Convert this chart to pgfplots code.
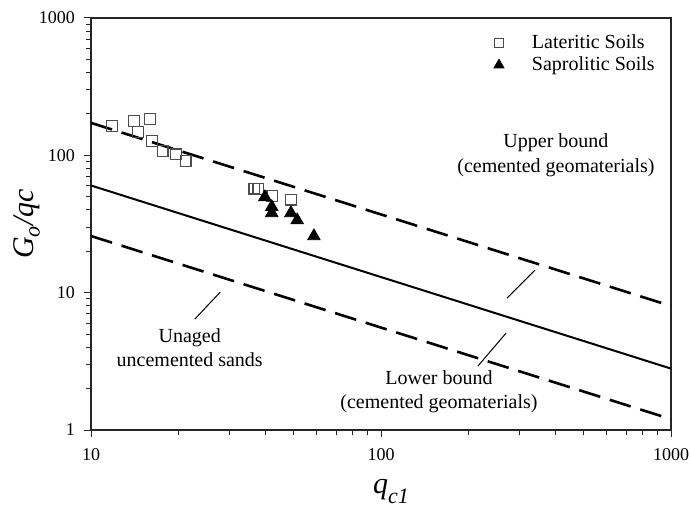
\documentclass[border=0pt]{standalone}
\usepackage{fontspec}
\setmainfont{Liberation Serif}
\usepackage{pgfplots}
\pgfplotsset{compat=1.18}
\begin{document}
\begin{tikzpicture}
\begin{loglogaxis}[
  scale only axis,
  width=290pt, height=206pt,
  xmin=10, xmax=1000, ymin=1, ymax=1000,
  log ticks with fixed point,
  /pgf/number format/1000 sep={},
  /pgf/number format/assume math mode=true,
  tick label style={font=\fontsize{9}{10}\selectfont},
  xtick={10,100,1000}, ytick={1,10,100,1000},
  tick align=outside,
  major tick length=3.5pt, minor tick length=2.5pt,
  tick style={black!85, line width=0.5pt},
  axis line style={black!85, line width=0.6pt},
  xtick pos=bottom, ytick pos=left,
  xticklabel style={yshift=-2pt},
  yticklabel style={xshift=-1pt},
  xlabel={\fontsize{15}{16}\selectfont\itshape q\raisebox{-0.75ex}{\fontsize{11}{12}\selectfont c1}},
  ylabel={\fontsize{15}{16}\selectfont\itshape G\raisebox{-0.45ex}{\fontsize{11}{12}\selectfont o}/qc},
  xlabel style={at={(axis description cs:0.5,0)}, anchor=north, yshift=-21pt, xshift=5pt},
  ylabel style={at={(axis description cs:0,0.5)}, anchor=south, yshift=22pt},
  legend style={draw=none, fill=none, font=\fontsize{10}{11}\selectfont,
    at={(axis description cs:0.682,0.975)}, anchor=north west, row sep=-1.5pt,
    inner sep=1pt},
  legend cell align=left,
  legend image code/.code={\path[draw=none] (0pt,0pt) -- (19.5pt,0pt); \draw[#1, mark size=0.8\pgfplotmarksize] plot coordinates {(5pt,0pt)};},
  clip=false,
]
\coordinate (SW) at (rel axis cs:0,0);
\coordinate (NE) at (rel axis cs:1,1);
\addplot[only marks, mark=square, mark size=2.7pt, mark options={draw=black!70, line width=0.6pt, fill=white}]
 coordinates {(11.8,163.3) (14.1,177.7) (14.5,147.6) (15.97,183.6) (16.27,127) (17.67,107.5) (19.64,101.7) (21.2,90.9) (36.6,57.3) (37.8,56.6) (42.2,50.6) (48.9,47.6)};
\addlegendentry{Lateritic Soils}
\addplot[only marks, mark=triangle*, mark size=3.6pt, mark options={draw=black, fill=black}]
 coordinates {(39.8,49.7) (42.0,42.1) (42.0,38.0) (48.9,38.0) (51.4,33.7) (58.7,25.8)};
\addlegendentry{Saprolitic Soils}
\addplot[black, line width=1.3pt, dash pattern=on 11pt off 5pt, forget plot] coordinates {(10,172.35) (1000,8)};
\addplot[black, line width=1pt, forget plot] coordinates {(10,60.32) (1000,2.8)};
\addplot[black, line width=1.3pt, dash pattern=on 11pt off 5pt, forget plot] coordinates {(10,25.85) (1000,1.2)};
\node[align=center, font=\fontsize{10}{12.5}\selectfont] at (axis cs:401,100) {Upper bound\\(cemented geomaterials)};
\node[align=center, font=\fontsize{10}{12}\selectfont] at (axis cs:158.5,1.89) {Lower bound\\(cemented geomaterials)};
\node[align=center, font=\fontsize{10}{12}\selectfont] at (axis cs:21.9,4.01) {Unaged\\uncemented sands};
\draw[black, line width=0.5pt] (axis cs:22.8,6.42) -- (axis cs:27.9,10.1);
\draw[black, line width=0.5pt] (axis cs:215.8,2.92) -- (axis cs:270,5.08);
\draw[black, line width=0.5pt] (axis cs:272,9.12) -- (axis cs:339.7,14.6);
\end{loglogaxis}
\pgfresetboundingbox
\path[use as bounding box] ([shift={(-45.5pt,-38pt)}]SW) rectangle ([shift={(9.5pt,9pt)}]NE);
\end{tikzpicture}
\end{document}
